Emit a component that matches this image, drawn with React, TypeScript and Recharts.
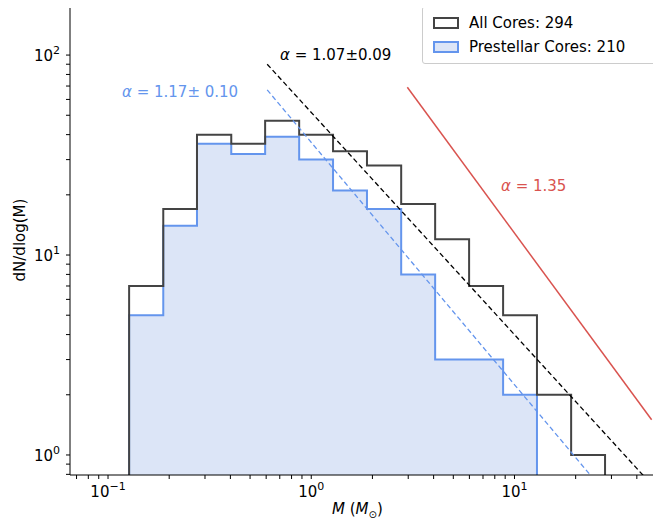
import React from "react";
import { ComposedChart, Line, Area, XAxis, YAxis } from "recharts";

const binEdges = [0.127, 0.187, 0.274, 0.404, 0.593, 0.872, 1.28, 1.88, 2.77, 4.07, 5.98, 8.79, 12.9, 19.0, 27.9];
const allCores = [7, 17, 40, 36, 47, 40, 33, 28, 18, 12, 7, 5, 2, 1];
const prestellar = [5, 14, 36, 32, 39, 30, 21, 17, 8, 3, 3, 2];
const fitAll = [{ x: 0.607, y: 90 }, { x: 43, y: 0.79 }];
const fitPre = [{ x: 0.607, y: 67 }, { x: 23.7, y: 0.79 }];
const salpeter = [{ x: 2.97, y: 69 }, { x: 47.3, y: 1.5 }];
const xTicks = [0.1, 1, 10];
const yTicks = [1, 10, 100];
const xMinor = [0.07, 0.08, 0.09, 0.2, 0.3, 0.4, 0.5, 0.6, 0.7, 0.8, 0.9, 2, 3, 4, 5, 6, 7, 8, 9, 20, 30, 40, 50];
const yMinor = [0.8, 0.9, 2, 3, 4, 5, 6, 7, 8, 9, 20, 30, 40, 50, 60, 70, 80, 90];

const YMIN = 0.794;
const YMAX = 178;
const XMIN = 0.065;
const XMAX = 52;
const frame = [{ x: XMIN, y: YMAX }, { x: XMAX, y: YMAX }, { x: XMAX, y: YMIN }];

function stepData(vals: number[]) {
  const d: { x: number; y: number }[] = [{ x: binEdges[0], y: YMIN }];
  vals.forEach((v, i) => d.push({ x: binEdges[i], y: v }));
  d.push({ x: binEdges[vals.length], y: vals[vals.length - 1] });
  d.push({ x: binEdges[vals.length], y: YMIN });
  return d;
}

const font = "DejaVu Sans, sans-serif";
const expOf = (v: number) => Math.round(Math.log10(v));

const XTick = (p: any) => {
  const v = p.payload.value;
  if (!xTicks.includes(v)) return <g />;
  const e = expOf(v);
  return (
    <text x={p.x} y={p.y + 16} textAnchor="middle" fontFamily={font} fontSize={15} fill="#000">
      10<tspan dy={-7} fontSize={11}>{e < 0 ? "\u2212" + Math.abs(e) : e}</tspan>
    </text>
  );
};
const YTick = (p: any) => {
  const v = p.payload.value;
  if (!yTicks.includes(v)) return <g />;
  return (
    <text x={p.x - 4} y={p.y + 6} textAnchor="end" fontFamily={font} fontSize={15} fill="#000">
      10<tspan dy={-7} fontSize={11}>{expOf(v)}</tspan>
    </text>
  );
};

const allX = [...xTicks, ...xMinor].sort((a, b) => a - b);
const allY = [...yTicks, ...yMinor].sort((a, b) => a - b);

export default function App() {
  return (
    <div style={{ position: "relative", margin: "-8px 0 0 -8px", width: 661, height: 522, fontFamily: font }}>
      <ComposedChart width={661} height={522} margin={{ top: 5, right: 1, left: 0, bottom: 0 }}>
        <XAxis xAxisId="main" dataKey="x" type="number" scale="log" domain={[XMIN, XMAX]} allowDataOverflow ticks={allX} interval={0} tick={<XTick />} height={47} stroke="#000" tickSize={4} />
        <YAxis yAxisId="main" type="number" scale="log" domain={[YMIN, YMAX]} allowDataOverflow ticks={allY} interval={0} tick={<YTick />} width={70} stroke="#000" tickSize={4} />
        <Area xAxisId="main" yAxisId="main" data={stepData(prestellar)} dataKey="y" type="stepAfter" baseValue={YMIN} stroke="#6495ED" strokeWidth={2} fill="#dce5f7" fillOpacity={1} isAnimationActive={false} dot={false} />
        <Line xAxisId="main" yAxisId="main" data={stepData(allCores)} dataKey="y" type="stepAfter" stroke="#444" strokeWidth={2} dot={false} isAnimationActive={false} />
        <Line xAxisId="main" yAxisId="main" data={fitAll} dataKey="y" stroke="#000" strokeDasharray="5 3" strokeWidth={1.3} dot={false} isAnimationActive={false} />
        <Line xAxisId="main" yAxisId="main" data={fitPre} dataKey="y" stroke="#6495ED" strokeDasharray="5 3" strokeWidth={1.3} dot={false} isAnimationActive={false} />
        <Line xAxisId="main" yAxisId="main" data={salpeter} dataKey="y" stroke="#d9534f" strokeWidth={1.5} dot={false} isAnimationActive={false} />
        <Line xAxisId="main" yAxisId="main" data={frame} dataKey="y" stroke="#000" strokeWidth={2.5} dot={false} isAnimationActive={false} />
      </ComposedChart>
      <div style={{ position: "absolute", zIndex: 11, left: 280, top: 46, fontSize: 15 }}><i>α</i> = 1.07±0.09</div>
      <div style={{ position: "absolute", zIndex: 11, left: 122, top: 83, fontSize: 15, color: "#6495ED" }}><i>α</i> = 1.17± 0.10</div>
      <div style={{ position: "absolute", zIndex: 11, left: 501, top: 177, fontSize: 15, color: "#d9534f" }}><i>α</i> = 1.35</div>
      <div style={{ position: "absolute", zIndex: 11, left: 422, top: 6, width: 234, height: 56, border: "1px solid #ccc", borderRadius: 3, background: "rgba(255,255,255,0.9)", fontSize: 15 }}>
        <div style={{ position: "absolute", left: 10, top: 7, display: "flex", alignItems: "center" }}>
          <span style={{ width: 26, height: 12, border: "2px solid #444", boxSizing: "border-box", marginRight: 10 }} />All Cores: 294
        </div>
        <div style={{ position: "absolute", left: 10, top: 31, display: "flex", alignItems: "center" }}>
          <span style={{ width: 26, height: 12, border: "2px solid #6495ED", background: "#dce5f7", boxSizing: "border-box", marginRight: 10 }} />Prestellar Cores: 210
        </div>
      </div>
      <div style={{ position: "absolute", left: 8, top: 240, transform: "translate(-50%,-50%) rotate(-90deg)", transformOrigin: "center", fontSize: 15, whiteSpace: "nowrap", marginLeft: 12 }}>dN/dlog(M)</div>
      <div style={{ position: "absolute", left: 332, top: 500, fontSize: 15, whiteSpace: "nowrap" }}><i>M</i> (<i>M</i><sub style={{ fontSize: 10 }}>⊙</sub>)</div>
    </div>
  );
}
